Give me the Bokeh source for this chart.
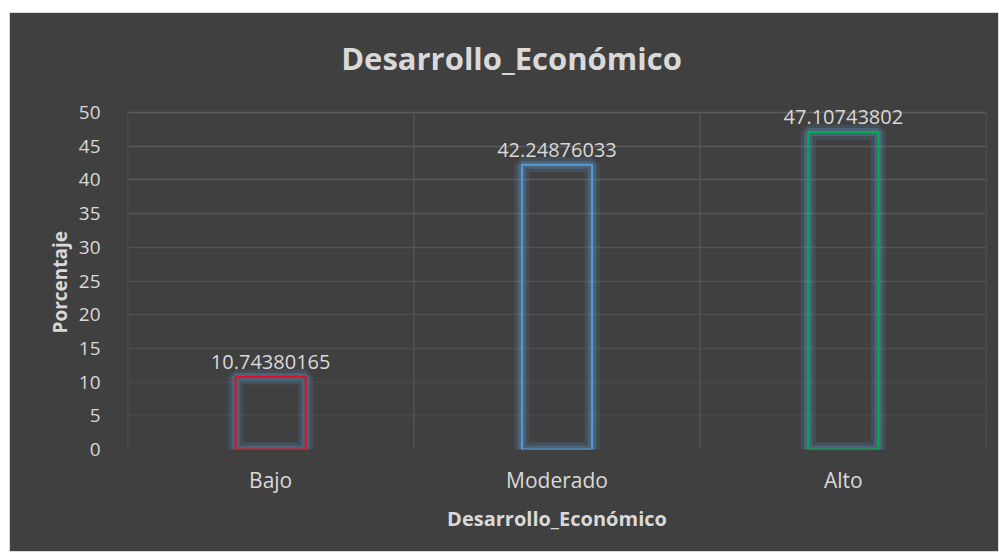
from bokeh.plotting import figure
from bokeh.models import ColumnDataSource, FactorRange, Range1d, FixedTicker, LabelSet, Label, Grid, Title
from bokeh.layouts import column
from bokeh.core.properties import value
from bokeh.embed import file_html
from bokeh.resources import INLINE

title_text = "Desarrollo_Económico"
y_title = "Porcentaje"
categories = ["Bajo", "Moderado", "Alto"]
values = [10.74380165, 42.24876033, 47.10743802]
labels = ["10.74380165", "42.24876033", "47.10743802"]
y_ticks = [0, 5, 10, 15, 20, 25, 30, 35, 40, 45, 50]

outline_colors = ["#e8101c", "#5b9bd5", "#00b050"]
FONT = "Open Sans"
TXT = "#d9d9d9"
BG = "#404040"

# layout geometry (pixels)
W, H = 988, 538
B_TOP, B_BOT = 10, 102
AXIS_PX = 337  # pixel height of the 0..50 value axis
frame_h = H - B_TOP - B_BOT
y_max = y_ticks[-1] * frame_h / AXIS_PX

src = ColumnDataSource(dict(cat=categories, val=values, lab=labels, col=outline_colors))

p = figure(width=W, height=H, x_range=FactorRange(*categories), y_range=Range1d(0, y_max),
           output_backend="svg", toolbar_location=None,
           min_border_left=117, min_border_right=12, min_border_top=B_TOP, min_border_bottom=B_BOT,
           background_fill_color=BG, border_fill_color=BG, outline_line_color=None)

# axes
for ax in (p.xaxis[0], p.yaxis[0]):
    ax.axis_line_color = None
    ax.major_tick_line_color = None
    ax.minor_tick_line_color = None
    ax.major_label_text_font = FONT
    ax.major_label_text_font_size = "19px"
    ax.major_label_text_color = TXT
    ax.axis_label_text_font = FONT
    ax.axis_label_text_font_style = "bold"
    ax.axis_label_text_font_size = "20px"
    ax.axis_label_text_color = TXT

p.xaxis.major_label_text_font_size = "21px"
p.yaxis.ticker = FixedTicker(ticks=y_ticks)
p.yaxis.major_label_standoff = 21
p.xaxis.major_label_standoff = 10
p.xaxis.axis_label = title_text
p.xaxis.axis_label_standoff = 8

# y axis title, centred on the 0..50 value span (offset measured from frame bottom)
p.add_layout(Title(text=y_title, align="left", offset=116, standoff=6,
                   text_font=FONT, text_font_style="bold", text_font_size="19px",
                   text_color=TXT), "left")

# gridlines (fading toward the bottom)
p.xgrid.grid_line_color = None
p.ygrid.grid_line_color = None
for t in y_ticks[1:]:
    frac = t / y_ticks[-1]
    c = int(0x46 + (0x5c - 0x46) * frac)
    g = Grid(dimension=1, ticker=FixedTicker(ticks=[t]), grid_line_color="#%02x%02x%02x" % (c, c, c),
             grid_line_width=1.5)
    p.add_layout(g)
bounds = list(range(len(categories) + 1))
p.segment(x0=bounds, x1=bounds, y0=[y_ticks[0]] * len(bounds), y1=[y_ticks[-1]] * len(bounds),
          line_color="#545454", line_width=1.5)

# glow layers
p.vbar(x="cat", top="val", width=0.245, source=src, fill_color=None,
       line_color="#5b9bd5", line_width=15, line_alpha=0.16)
p.vbar(x="cat", top="val", width=0.245, source=src, fill_color=None,
       line_color="#5b9bd5", line_width=8, line_alpha=0.28)
p.vbar(x="cat", top="val", width=0.245, source=src, fill_color=None,
       line_color="col", line_width=2)

lbl = LabelSet(x="cat", y="val", text="lab", source=src, text_align="center",
               text_baseline="bottom", y_offset=8, text_font=value(FONT),
               text_font_size=value("20px"), text_color=TXT)
p.add_layout(lbl)

# chart title, centred over the chart area
p.add_layout(Label(x=0, y=y_ticks[-1], x_offset=384, y_offset=55, text=title_text,
                   text_align="center", text_baseline="middle", text_font=FONT,
                   text_font_size="31px", text_font_style="bold", text_color=TXT))

layout = column(p, margin=(12, 0, 4, 9),
                styles={"border": "1px solid #d9d9d9", "background-color": BG})

open("out.html", "w").write(file_html(layout, INLINE))
